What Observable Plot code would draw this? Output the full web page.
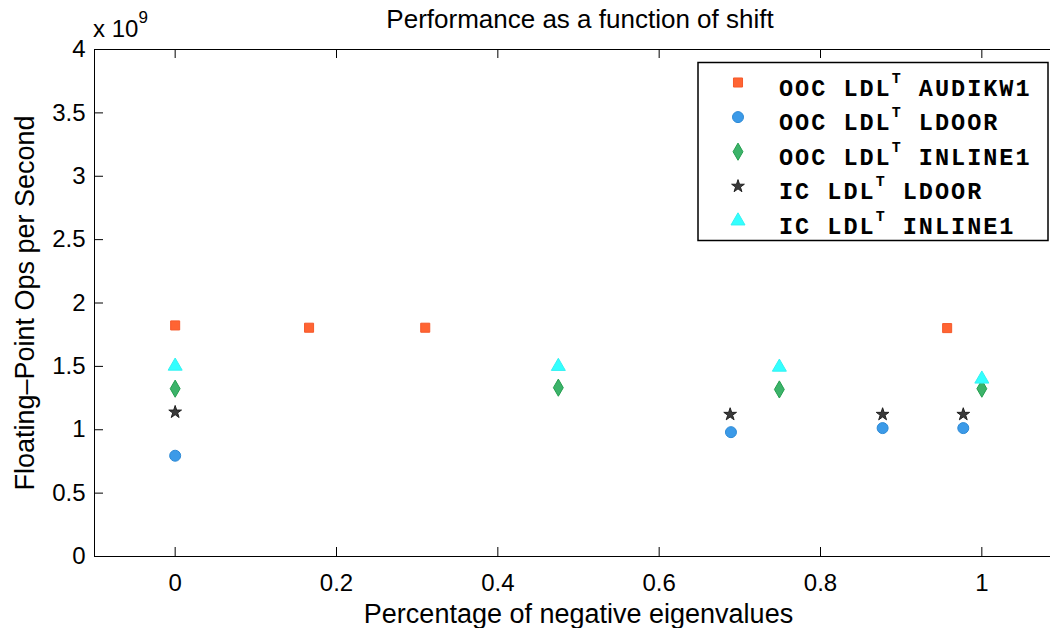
<!DOCTYPE html>
<html><head><meta charset="utf-8">
<script src="https://cdn.jsdelivr.net/npm/d3@7"></script>
<script src="https://cdn.jsdelivr.net/npm/@observablehq/plot@0.6"></script>
<style>
html,body{margin:0;padding:0;background:#fff;overflow:hidden;width:1050px;height:628px}
#wrap{position:relative;width:1050px;height:628px;overflow:hidden;background:#fff}
#chart{position:absolute;left:0;top:0}
#chart svg{max-width:none !important}
#overlay{position:absolute;left:0;top:0;pointer-events:none}
g[aria-label="x-axis label"]{font-size:27px}
g[aria-label="y-axis label"]{font-size:27px}
</style></head><body>
<div id="wrap"><div id="chart"></div><svg id="overlay" width="1050" height="628"></svg></div>
<script>
// Data (y values in units of 10^9 flop/s)
const audikwX = [0, 0.166, 0.310, 0.957];
const audikwY = [1.823, 1.805, 1.805, 1.802];
const oocLdoorX = [0, 0.689, 0.877, 0.977];
const oocLdoorY = [0.795, 0.981, 1.013, 1.013];
const oocInlineX = [0, 0.475, 0.749, 1.0];
const oocInlineY = [1.324, 1.332, 1.318, 1.324];
const icLdoorX = [0, 0.688, 0.877, 0.977];
const icLdoorY = [1.139, 1.121, 1.121, 1.121];
const icInlineX = [0, 0.475, 0.749, 1.0];
const icInlineY = [1.502, 1.500, 1.494, 1.400];
const seriesPrefix = ["OOC LDL", "OOC LDL", "OOC LDL", "IC LDL", "IC LDL"];
const seriesMatrix = ["AUDIKW1", "LDOOR", "INLINE1", "LDOOR", "INLINE1"];
const xTicks = [0, 0.2, 0.4, 0.6, 0.8, 1];
const yTicks = [0, 0.5, 1, 1.5, 2, 2.5, 3, 3.5, 4];
const titleText = "Performance as a function of shift";
const xLabel = "Percentage of negative eigenvalues";
const yLabel = "Floating\u2013Point Ops per Second";

const styles = [
  {symbol: "square",   fill: "#FF6433", stroke: "#F5592A", r: 5.1},
  {symbol: "circle",   fill: "#3B9AE8", stroke: "#2D8AD6", r: 5.5},
  {symbol: "diamond",  fill: "#3CB36A", stroke: "#239F4E", r: 5.2},
  {symbol: "star",     fill: "#3A3A3A", stroke: "#222222", r: 4.0},
  {symbol: "triangle", fill: "#33FFFF", stroke: "#33F2F2", r: 5.2}
];
const seriesXs = [audikwX, oocLdoorX, oocInlineX, icLdoorX, icInlineX];
const seriesYs = [audikwY, oocLdoorY, oocInlineY, icLdoorY, icInlineY];
const seriesData = seriesXs.map((xs, s) => xs.map((x, i) => ({x, y: seriesYs[s][i], s})));

const W = 1062, H = 628, mL = 94, mR = 0, mT = 49, mB = 72;
const plotW = W - mL - mR, plotH = H - mT - mB, tickLen = 9;

const chart = Plot.plot({
  width: W, height: H,
  marginLeft: mL, marginRight: mR, marginTop: mT, marginBottom: mB,
  style: {fontFamily: "'Liberation Sans', Arial, sans-serif", fontSize: "24px", color: "#000", background: "#fff", maxWidth: "none"},
  x: {domain: [-0.1, 1.1]},
  y: {domain: [0, 4]},
  marks: [
    Plot.frame({stroke: "#000", strokeWidth: 1}),
    Plot.tickX(xTicks, {x: d => d, insetTop: plotH - tickLen, stroke: "#000"}),
    Plot.tickX(xTicks, {x: d => d, insetBottom: plotH - tickLen, stroke: "#000"}),
    Plot.tickY(yTicks, {y: d => d, insetRight: plotW - tickLen, stroke: "#000"}),
    Plot.axisX({ticks: xTicks, tickSize: 0, tickPadding: 17, tickFormat: d => String(d),
      label: xLabel, labelAnchor: "center", labelArrow: "none", labelOffset: 66, fill: "#000"}),
    Plot.axisY({ticks: yTicks, tickSize: 0, tickPadding: 9, tickFormat: d => String(d),
      label: yLabel, labelAnchor: "center", labelArrow: "none", labelOffset: 80, fill: "#000"}),
    ...seriesData.map((data, s) => Plot.dot(data, {
      x: "x", y: "y", symbol: () => styles[s].symbol, r: styles[s].r,
      fill: styles[s].fill, stroke: styles[s].stroke, strokeWidth: 1
    }))
  ]
});
document.getElementById("chart").appendChild(chart);

// Overlay: title, exponent, legend
const ov = d3.select("#overlay");
const sans = "'Liberation Sans', Arial, sans-serif";
ov.append("text").attr("x", 580).attr("y", 28).attr("text-anchor", "middle")
  .attr("font-family", sans).attr("font-size", 26).text(titleText);
const ex = ov.append("text").attr("x", 93).attr("y", 37).attr("font-family", sans).attr("font-size", 24);
ex.append("tspan").text("x 10");
ex.append("tspan").attr("dy", -14).attr("font-size", 17).text("9");

const lg = ov.append("g");
lg.append("rect").attr("x", 698).attr("y", 62.5).attr("width", 350).attr("height", 178)
  .attr("fill", "#fff").attr("stroke", "#000").attr("stroke-width", 1.5);
const symMap = {square: d3.symbolSquare, circle: d3.symbolCircle, diamond: d3.symbolDiamond, star: d3.symbolStar, triangle: d3.symbolTriangle};
seriesPrefix.forEach((p, i) => {
  const st = styles[i];
  const cy = 82.5 + 34.6 * i;
  lg.append("path").attr("transform", `translate(738,${cy})`)
    .attr("d", d3.symbol(symMap[st.symbol], Math.PI * st.r * st.r)())
    .attr("fill", st.fill).attr("stroke", st.stroke);
  const t = lg.append("text").attr("x", 779).attr("y", 95.5 + 34.6 * i)
    .attr("font-family", "'Liberation Mono', 'Courier New', monospace").attr("font-weight", "bold")
    .attr("font-size", 23.5).style("letter-spacing", "2.0px");
  t.append("tspan").text(p);
  t.append("tspan").attr("dy", -13).attr("font-size", 15).text("T");
  t.append("tspan").attr("dy", 13).text(" " + seriesMatrix[i]);
});
</script>
</body></html>
